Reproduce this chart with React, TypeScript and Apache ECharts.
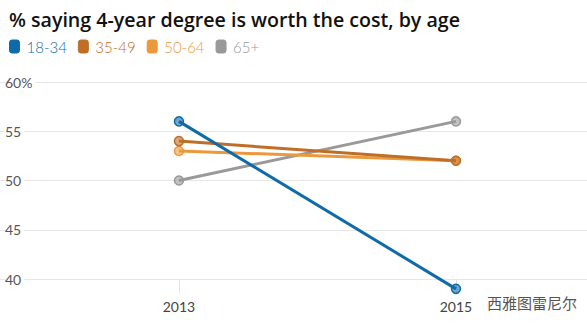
import React, { useEffect, useRef } from "react";
import * as echarts from "echarts";

const years = [2013, 2015];
const yTicks = [40, 45, 50, 55, 60];
const seriesNames = ["18-34", "35-49", "50-64", "65+"];
const values18_34 = [56, 39];
const values35_49 = [54, 52];
const values50_64 = [53, 52];
const values65 = [50, 56];
const colors = ["#0f6ba8", "#bf6e27", "#eb993c", "#999999"];

export default function App() {
  const ref = useRef<HTMLDivElement>(null);
  useEffect(() => {
    const chart = echarts.init(ref.current!, null, { renderer: "svg" });
    const all = [values18_34, values35_49, values50_64, values65];
    const font = "'Open Sans', Lato, sans-serif";
    chart.setOption({
      animation: false,
      title: {
        text: "% saying 4-year degree is worth the cost, by age",
        left: 4,
        top: 4,
        textStyle: { fontFamily: font, fontSize: 19.6, fontWeight: 600, color: "#111" },
      },
      legend: {
        left: 4,
        top: 34,
        icon: "roundRect",
        itemWidth: 10,
        itemHeight: 13,
        itemGap: 11,
        textStyle: { fontFamily: "Lato, sans-serif", fontSize: 15, fontWeight: 300, padding: [0, 0, 0, 2] },
        data: seriesNames.map((n, i) => ({
          name: n,
          itemStyle: { color: colors[i], borderColor: colors[i], borderWidth: 1, opacity: 1 },
          textStyle: { color: colors[i] },
        })),
      },
      grid: { left: 0, right: 0, top: 82, bottom: 49 },
      xAxis: {
        type: "value",
        min: 2011.708,
        max: 2015.946,
        axisLine: { show: false },
        splitLine: { show: false },
        axisTick: { show: true, customValues: years, length: 14, lineStyle: { color: "#e2e2e2" } },
        axisLabel: {
          customValues: years,
          formatter: (v: number) => String(v),
          fontFamily: "Lato, sans-serif",
          fontSize: 14,
          color: "#444",
          margin: 20,
        },
      },
      yAxis: {
        type: "value",
        min: 40,
        max: 60,
        interval: 5,
        axisLine: { show: false },
        axisTick: { show: false },
        splitLine: { lineStyle: { color: "#e6e6e6" } },
        axisLabel: {
          inside: true,
          margin: 5,
          fontFamily: "Lato, sans-serif",
          fontSize: 14,
          color: "#555",
          backgroundColor: "#fff",
          padding: [0, 3, 0, 0],
          verticalAlign: "middle",
          customValues: yTicks,
          formatter: (v: number) => (v === 60 ? "60%" : String(v)),
        },
      },
      series: seriesNames.map((n, i) => ({
        name: n,
        type: "line",
        clip: false,
        data: years.map((y, j) => [y, all[i][j]]),
        symbol: "circle",
        symbolSize: 9,
        lineStyle: { width: 3, color: colors[i] },
        itemStyle: {
          color: echarts.color.modifyAlpha(colors[i], 0.6),
          borderColor: colors[i],
          borderWidth: 1.5,
        },
        z: 10 - i,
      })),
      graphic: [
        {
          type: "text",
          left: 486,
          top: 294,
          z: 100,
          style: {
            text: "西雅图雷尼尔",
            font: "15px 'Noto Sans CJK SC'",
            fill: "#555",
            stroke: "#fff",
            lineWidth: 2,
          },
        },
      ],
    });
    return () => chart.dispose();
  }, []);
  return <div ref={ref} style={{ width: 587, height: 328, position: "absolute", left: 0, top: 0, background: "#fff" }} />;
}
